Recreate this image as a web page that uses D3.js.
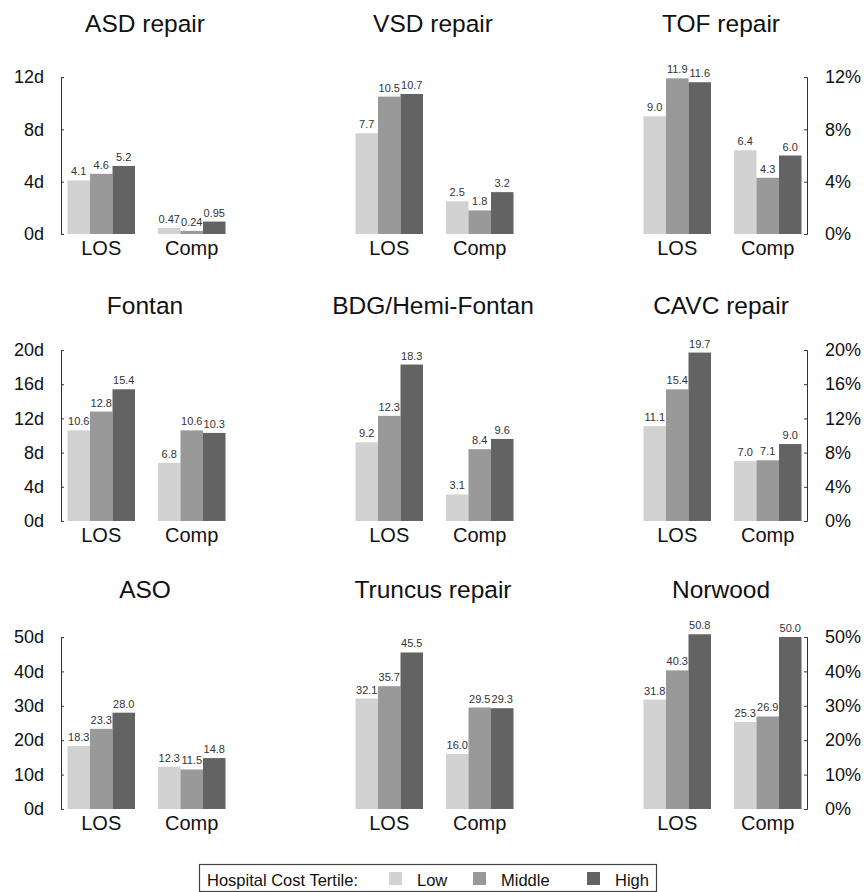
<!DOCTYPE html>
<html>
<head>
<meta charset="utf-8">
<script src="https://cdn.jsdelivr.net/npm/d3@7/dist/d3.min.js"></script>
<style>
  html, body { margin: 0; padding: 0; background: #fff; }
  svg { display: block; font-family: "Liberation Sans", Arial, sans-serif; }
</style>
</head>
<body>
<svg id="chart" width="867" height="892"></svg>
<script>
// ---- Data ----
const procedures = ["ASD repair", "VSD repair", "TOF repair",
                    "Fontan", "BDG/Hemi-Fontan", "CAVC repair",
                    "ASO", "Truncus repair", "Norwood"];
const groups = ["LOS", "Comp"];
const tertiles = ["Low", "Middle", "High"];

const losLow   = [4.1, 7.7, 9.0, 10.6, 9.2, 11.1, 18.3, 32.1, 31.8];
const losMid   = [4.6, 10.5, 11.9, 12.8, 12.3, 15.4, 23.3, 35.7, 40.3];
const losHigh  = [5.2, 10.7, 11.6, 15.4, 18.3, 19.7, 28.0, 45.5, 50.8];
const compLow  = [0.47, 2.5, 6.4, 6.8, 3.1, 7.0, 12.3, 16.0, 25.3];
const compMid  = [0.24, 1.8, 4.3, 10.6, 8.4, 7.1, 11.5, 29.5, 26.9];
const compHigh = [0.95, 3.2, 6.0, 10.3, 9.6, 9.0, 14.8, 29.3, 50.0];

const rowMax   = [12, 20, 50];
const rowTicks = [[0, 4, 8, 12], [0, 4, 8, 12, 16, 20], [0, 10, 20, 30, 40, 50]];
const leftTickSuffix = "d";
const rightTickSuffix = "%";
const legendTitle = "Hospital Cost Tertile:";

// ---- Styles / layout ----
const colors = d3.scaleOrdinal().domain(tertiles).range(["#d2d2d2", "#999999", "#636363"]);
const colX0 = [61, 349, 637];
const panelW = 170;
const rowBase = [234, 521, 809];
const rowTop  = [77, 350, 637];
const titleY  = [32, 314, 598];

const svg = d3.select("#chart");

const xGroup = d3.scaleBand().domain(groups).range([6.5, 164.5]).paddingInner(0.254).paddingOuter(0);
const xBar = d3.scaleBand().domain(tertiles).range([0, xGroup.bandwidth()]).padding(0);

const fmt = v => v < 1 ? v.toFixed(2) : v.toFixed(1);

procedures.forEach((name, i) => {
  const row = Math.floor(i / 3), col = i % 3;
  const y = d3.scaleLinear().domain([0, rowMax[row]]).range([rowBase[row], rowTop[row]]);
  const g = svg.append("g").attr("transform", `translate(${colX0[col]},0)`);

  g.append("text")
    .attr("x", panelW / 2 - 1).attr("y", titleY[row])
    .attr("text-anchor", "middle")
    .attr("font-size", 24.5).attr("fill", "#111")
    .text(name);

  const vals = {
    LOS:  [losLow[i], losMid[i], losHigh[i]],
    Comp: [compLow[i], compMid[i], compHigh[i]]
  };

  groups.forEach(grp => {
    const gg = g.append("g").attr("transform", `translate(${xGroup(grp)},0)`);
    const data = tertiles.map((t, k) => ({ t, v: vals[grp][k] }));
    gg.selectAll("rect").data(data).enter().append("rect")
      .attr("x", d => xBar(d.t))
      .attr("width", xBar.bandwidth())
      .attr("y", d => y(d.v))
      .attr("height", d => y(0) - y(d.v))
      .attr("fill", d => colors(d.t));
    gg.selectAll("text.val").data(data).enter().append("text")
      .attr("class", "val")
      .attr("x", d => xBar(d.t) + xBar.bandwidth() / 2)
      .attr("y", d => y(d.v) - 5)
      .attr("text-anchor", "middle")
      .attr("font-size", 11).attr("fill", "#333")
      .text(d => fmt(d.v));
    gg.append("text")
      .attr("x", xGroup.bandwidth() / 2)
      .attr("y", rowBase[row] + 21)
      .attr("text-anchor", "middle")
      .attr("font-size", 20).attr("fill", "#111")
      .text(grp);
  });

  if (col === 0) {
    const ax = g.append("g")
      .call(d3.axisLeft(y).tickValues(rowTicks[row]).tickSizeInner(-3).tickSizeOuter(-3)
        .tickPadding(17).tickFormat(d => d + leftTickSuffix));
    ax.selectAll("text").attr("font-size", 18).attr("fill", "#111").attr("font-family", "Liberation Sans, Arial, sans-serif");
    ax.selectAll("path,line").attr("stroke", "#333");
  }
  if (col === 2) {
    const ax = g.append("g").attr("transform", `translate(${panelW},0)`)
      .call(d3.axisRight(y).tickValues(rowTicks[row]).tickSizeInner(-3).tickSizeOuter(-3)
        .tickPadding(18).tickFormat(d => d + rightTickSuffix));
    ax.selectAll("text").attr("font-size", 18).attr("fill", "#111").attr("font-family", "Liberation Sans, Arial, sans-serif");
    ax.selectAll("path,line").attr("stroke", "#333");
  }
});

// ---- Legend ----
const lg = svg.append("g");
lg.append("rect").attr("x", 199.5).attr("y", 864.5).attr("width", 457).attr("height", 27)
  .attr("fill", "#fff").attr("stroke", "#444").attr("stroke-width", 1.2);
lg.append("text").attr("x", 207).attr("y", 886).attr("font-size", 16.5).attr("fill", "#111").text(legendTitle);
const legX = d3.scaleOrdinal().domain(tertiles).range([389, 473, 587]);
tertiles.forEach(t => {
  lg.append("rect").attr("x", legX(t)).attr("y", 872).attr("width", 13).attr("height", 13).attr("fill", colors(t));
  lg.append("text").attr("x", legX(t) + 28).attr("y", 886).attr("font-size", 16.5).attr("fill", "#111").text(t);
});
</script>
</body>
</html>
